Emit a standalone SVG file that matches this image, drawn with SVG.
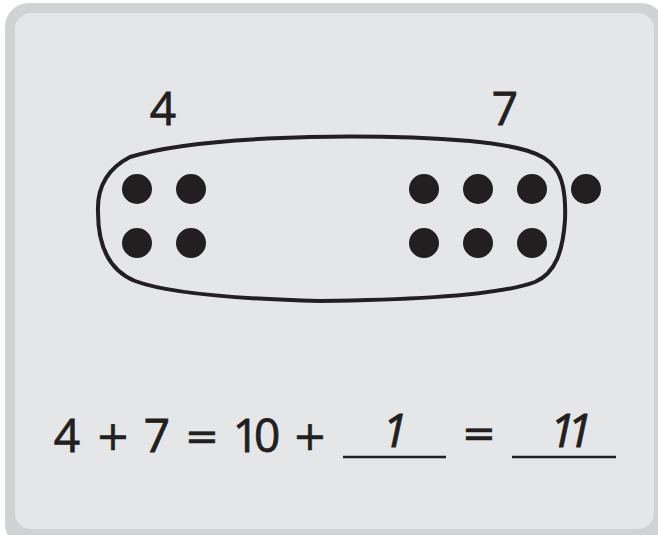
<svg xmlns="http://www.w3.org/2000/svg" width="658" height="535" viewBox="0 0 658 535">
<style>
.t{font-family:"Open Sans","Liberation Sans",sans-serif;font-size:46px;fill:#231f20;stroke:#231f20;stroke-width:0.8;text-anchor:middle}
.op{font-family:"DejaVu Sans","Liberation Sans",sans-serif;font-size:41px;fill:#231f20;stroke:#231f20;stroke-width:0.5;text-anchor:middle}
.dot{fill:#231f20}
.ln{stroke:#231f20;stroke-width:2.5}
</style>
<g id="frame">
<rect x="5" y="3" width="660" height="545" rx="24" fill="#d1d2d4"/>
<rect x="15" y="13" width="639" height="516" rx="16" fill="#e5e6e8"/>
</g>
<g id="labels">
<text class="t" x="163" y="125">4</text>
<text class="t" x="505" y="125">7</text>
</g>
<g id="loop">
<path d="M 130 157 C 105 170 97 190 98 212 C 98 245 108 270 135 281 C 170 294 240 299 320 301 C 420 300 500 295 535 282 C 556 273 563 250 565 220 C 566 195 563 178 555 168 C 545 153 520 146 470 141 C 420 137 360 136 310 137 C 230 139 165 146 130 157 Z" fill="none" stroke="#231f20" stroke-width="4"/>
</g>
<g id="dots">
<circle class="dot" cx="137" cy="189" r="15"/>
<circle class="dot" cx="191" cy="189" r="15"/>
<circle class="dot" cx="137" cy="243" r="15"/>
<circle class="dot" cx="191" cy="243" r="15"/>
<circle class="dot" cx="424" cy="189" r="15"/>
<circle class="dot" cx="478" cy="189" r="15"/>
<circle class="dot" cx="532" cy="189" r="15"/>
<circle class="dot" cx="586" cy="189" r="15"/>
<circle class="dot" cx="424" cy="243" r="15"/>
<circle class="dot" cx="478" cy="243" r="15"/>
<circle class="dot" cx="532" cy="243" r="15"/>
</g>
<g id="equation">
<text class="t" x="67" y="452">4</text>
<text class="op" x="113" y="450">+</text>
<text class="t" x="157" y="452">7</text>
<text class="op" x="202" y="450">=</text>
<text class="t" x="254" y="452" letter-spacing="-5">10</text>
<text class="op" x="310" y="450">+</text>
<line class="ln" x1="343" y1="457" x2="446" y2="457"/>
<text class="t" x="395" y="447" font-style="italic">1</text>
<text class="op" x="479" y="447">=</text>
<line class="ln" x1="512" y1="457" x2="616" y2="457"/>
<text class="t" x="567" y="447" font-style="italic" letter-spacing="-8">11</text>
</g>
</svg>
